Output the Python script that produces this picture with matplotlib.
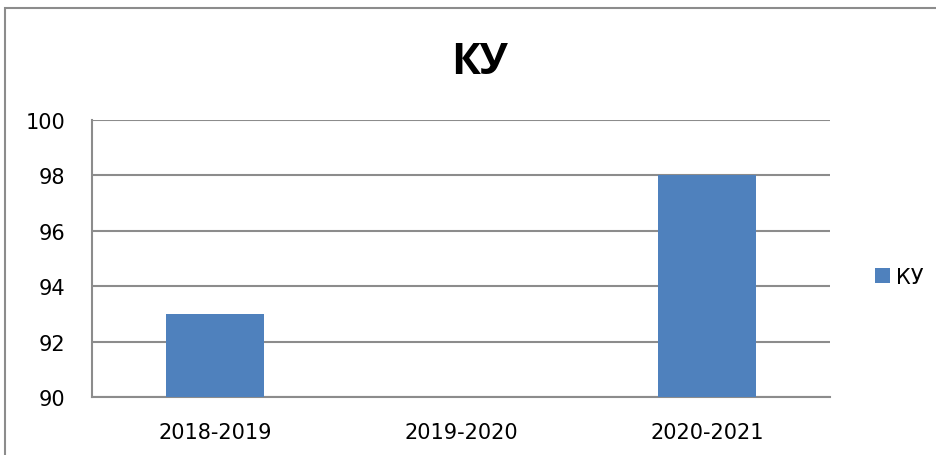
import matplotlib
matplotlib.use("Agg")
import matplotlib.pyplot as plt
from matplotlib.patches import Rectangle

# data
categories = ["2018-2019", "2019-2020", "2020-2021"]
values = [93, None, 98]
series_name = "КУ"
chart_title = "КУ"
y_ticks = [90, 92, 94, 96, 98, 100]

plt.rcParams['font.family'] = ['DejaVu Sans']

W, H = 937, 456
fig = plt.figure(figsize=(W / 100, H / 100), dpi=100)

grid_col = "#8c8c8c"
bar_col = "#4f81bd"

# outer chart frame (cut off on the right and bottom)
fig.patches.append(Rectangle((5 / W, -0.05), 1.1, 1 - 9 / H + 0.05,
                             transform=fig.transFigure, fill=False,
                             edgecolor=grid_col, linewidth=1.5))

ax = fig.add_axes([92 / W, 1 - 398 / H, (830 - 92) / W, (398 - 121) / H])
xs = list(range(len(categories)))
heights = [v - 90 if v is not None else 0 for v in values]
bars = ax.bar(xs, heights, bottom=90, width=0.4, color=bar_col,
              label=series_name, zorder=3)

ax.set_xlim(-0.5, len(categories) - 0.5)
ax.set_ylim(90, 100)
ax.set_yticks(y_ticks)
ax.set_xticks(xs)
ax.set_xticklabels(categories)
ax.tick_params(axis="both", length=0, labelsize=15, colors="black")
ax.tick_params(axis="y", pad=19)
ax.tick_params(axis="x", pad=18)
ax.grid(axis="y", color=grid_col, linewidth=1.5, zorder=0)
for s in ["top", "right"]:
    ax.spines[s].set_visible(False)
for s in ["left", "bottom"]:
    ax.spines[s].set_color(grid_col)
    ax.spines[s].set_linewidth(1.5)

fig.text(480 / W, 1 - 62 / H, chart_title, ha="center", va="center",
         fontsize=31, fontweight="bold", fontfamily="Open Sans")

fig.legend(handles=[bars], labels=[series_name], loc="center left",
           bbox_to_anchor=(865 / W, 1 - 278 / H), frameon=False, borderpad=0,
           fontsize=15, handlelength=0.7, handleheight=0.7, handletextpad=0.3)

fig.savefig("out.png", dpi=100)
